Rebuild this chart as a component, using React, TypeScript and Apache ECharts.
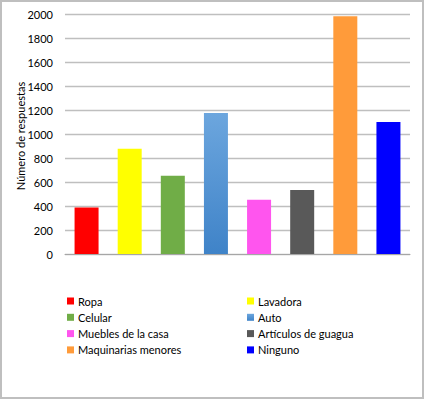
import React, { useEffect, useRef } from "react";
import * as echarts from "echarts";

const categories = [
  "Ropa",
  "Lavadora",
  "Celular",
  "Auto",
  "Muebles de la casa",
  "Artículos de guagua",
  "Maquinarias menores",
  "Ninguno",
];
const values = [388, 877, 652, 1175, 452, 533, 1982, 1100];
const colors = [
  "#FF0000",
  "#FFFF00",
  "#70AD47",
  "#5B9BD5",
  "#FF55EE",
  "#595959",
  "#FF9B3A",
  "#0000FF",
];
const yTicks = { min: 0, max: 2000, interval: 200 };
const yTitle = "Número de respuestas";
const leftLegend = ["Ropa", "Celular", "Muebles de la casa", "Maquinarias menores"];
const rightLegend = ["Lavadora", "Auto", "Artículos de guagua", "Ninguno"];

const FONT = "Lato";

export default function App() {
  const ref = useRef<HTMLDivElement>(null);
  useEffect(() => {
    if (!ref.current) return;
    const chart = echarts.init(ref.current, null, { renderer: "svg" });
    const series = categories.map((name, i) => {
      const color =
        name === "Auto"
          ? new echarts.graphic.LinearGradient(0, 0, 0, 1, [
              { offset: 0, color: "#6CA6DE" },
              { offset: 1, color: "#3F83C8" },
            ])
          : colors[i];
      return {
        name,
        type: "bar",
        barWidth: 24,
        barGap: "-100%",
        data: categories.map((_, j) => (j === i ? values[i] : null)),
        itemStyle: { color },
      };
    });
    const legendCommon = {
      orient: "vertical",
      itemWidth: 7,
      itemHeight: 7,
      itemGap: 2.3,
      icon: "rect",
      textStyle: { fontFamily: FONT, fontSize: 11, color: "#000", lineHeight: 14, padding: [0, 0, 0, -1] },
      padding: 0,
    };
    chart.setOption({
      animation: false,
      color: colors,
      textStyle: { fontFamily: FONT },
      grid: { left: 65, right: 14, top: 14, bottom: 145, containLabel: false },
      xAxis: {
        type: "category",
        data: categories,
        axisLabel: { show: false },
        axisTick: { show: false },
        axisLine: { lineStyle: { color: "#A6A6A6", width: 1 } },
      },
      yAxis: {
        type: "value",
        min: yTicks.min,
        max: yTicks.max,
        interval: yTicks.interval,
        axisLabel: {
          fontFamily: FONT,
          fontSize: 11,
          color: "#000",
          margin: 12,
          formatter: (v: number) => String(v),
        },
        axisLine: { show: false },
        axisTick: { show: false },
        splitLine: { lineStyle: { color: "#BFBFBF", width: 1.3 } },
      },
      legend: [
        { ...legendCommon, left: 67, top: 294, data: leftLegend },
        { ...legendCommon, left: 247, top: 294, data: rightLegend },
      ],
      graphic: [
        {
          type: "rect",
          shape: { x: 1, y: 1, width: 422, height: 397 },
          style: { fill: "none", stroke: "#BFBFBF", lineWidth: 2 },
          silent: true,
        },
        {
          type: "text",
          x: 20,
          y: 136,
          rotation: Math.PI / 2,
          style: {
            text: yTitle,
            fontFamily: FONT,
            fontSize: 11,
            fill: "#000",
            align: "center",
            verticalAlign: "middle",
          },
          silent: true,
        },
      ],
      series,
    });
    return () => chart.dispose();
  }, []);
  return (
    <div
      ref={ref}
      style={{ position: "absolute", left: 0, top: 0, width: 424, height: 399, background: "#fff" }}
    />
  );
}
